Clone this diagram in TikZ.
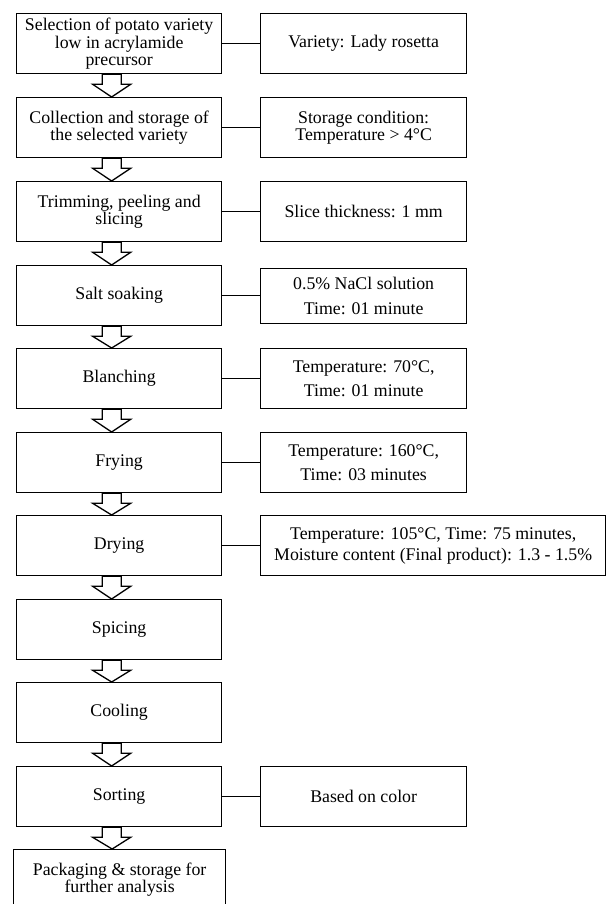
\documentclass[tikz,border=0pt]{standalone}
\usepackage{fontspec}
\setmainfont{Liberation Serif}
\usetikzlibrary{calc}
\begin{document}
\begin{tikzpicture}[x=1pt,y=-1pt,
  mainbox/.style={draw, line width=1.3pt, anchor=north west, minimum width=205pt, minimum height=60pt, align=center, inner sep=0pt, font=\fontsize{17.8}{17.7}\selectfont},
  sidebox/.style={draw, line width=1.3pt, anchor=north west, minimum width=206pt, minimum height=60pt, align=center, inner sep=0pt, font=\fontsize{17.8}{24.7}\selectfont},
  link/.style={line width=1.3pt},
  blockarrow/.style={line width=1.3pt, fill=white, line join=miter}
]
\path[use as bounding box] (0,0) rectangle (606,904);
\clip (0,0) rectangle (606,904);

\node[mainbox] (m1) at (16,13) {Selection of potato variety\\low in acrylamide\\precursor};
\node[mainbox] (m2) at (16,97) {Collection and storage of\\the selected variety};
\node[mainbox] (m3) at (16,181) {Trimming, peeling and\\slicing};
\node[mainbox] (m4) at (16,265) {Salt soaking};
\node[mainbox] (m5) at (16,348) {Blanching};
\node[mainbox] (m6) at (16,432) {Frying};
\node[mainbox] (m7) at (16,515) {Drying};
\node[mainbox] (m8) at (16,599) {Spicing};
\node[mainbox] (m9) at (16,682) {Cooling};
\node[mainbox] (m10) at (16,766) {Sorting};
\node[mainbox, minimum width=212pt] (m11) at (13,849) {Packaging \& storage for\\further analysis};

\node[sidebox] (s1) at (260,13) {Variety: Lady rosetta};
\node[sidebox] (s2) at (260,97) {Storage condition:\\[-7pt]Temperature > 4°C};
\node[sidebox] (s3) at (260,181) {Slice thickness: 1 mm};
\node[sidebox, minimum height=55pt] (s4) at (260,267.5) {0.5\% NaCl solution\\Time: 01 minute};
\node[sidebox] (s5) at (260,348) {Temperature: 70°C,\\Time: 01 minute};
\node[sidebox] (s6) at (260,432) {Temperature: 160°C,\\Time: 03 minutes};
\node[sidebox, minimum width=345pt, font=\fontsize{17.8}{21}\selectfont] (s7) at (260,515) {Temperature: 105°C, Time: 75 minutes,\\Moisture content (Final product): 1.3 - 1.5\%};
\node[sidebox] (s10) at (260,766) {Based on color};

\foreach \i in {1,2,3,4,5,6,7,10} {
  \draw[link] (m\i.east) -- (m\i.east -| s\i.west);
}

\newcommand\flowarrow[2]{%
  \draw[blockarrow] ($(#1.south)+(-17,0)$) -- ($(#1.south)+(2,0)$) -- ($(#1.south)+(2,10)$) -- ($(#1.south)+(11.5,10)$) -- ($(#2.north)+(-7.5,0)$) -- ($(#1.south)+(-26.5,10)$) -- ($(#1.south)+(-17,10)$) -- cycle;}
\flowarrow{m1}{m2}
\flowarrow{m2}{m3}
\flowarrow{m3}{m4}
\flowarrow{m4}{m5}
\flowarrow{m5}{m6}
\flowarrow{m6}{m7}
\flowarrow{m7}{m8}
\flowarrow{m8}{m9}
\flowarrow{m9}{m10}
\flowarrow{m10}{m11}
\end{tikzpicture}
\end{document}
